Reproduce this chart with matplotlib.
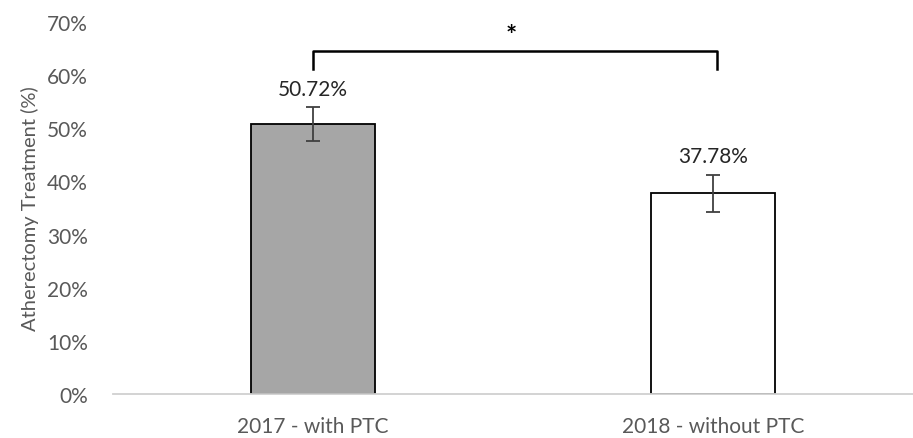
import matplotlib
matplotlib.use("Agg")
import matplotlib.pyplot as plt
from matplotlib.ticker import FuncFormatter

categories = ["2017 - with PTC", "2018 - without PTC"]
values = [50.72, 37.78]
errors = [3.2, 3.5]
bar_colors = ["#A6A6A6", "#FFFFFF"]
value_labels = ["50.72%", "37.78%"]
y_ticks = [0, 10, 20, 30, 40, 50, 60, 70]

plt.rcParams["font.family"] = ["Lato", "DejaVu Sans"]

fig = plt.figure(figsize=(9.13, 4.39), dpi=100)
ax = fig.add_axes([113 / 913, 44 / 439, 1 - 113 / 913, (395 - 23) / 439])

x = list(range(len(categories)))
ax.bar(x, values, width=0.31, color=bar_colors, edgecolor="black", linewidth=1.3, zorder=2)
ax.errorbar(x, values, yerr=errors, fmt="none", ecolor="#404040", elinewidth=1.3,
            capsize=5, capthick=1.3, zorder=3)

for xi, v, e, lab in zip(x, values, errors, value_labels):
    ax.annotate(lab, (xi, v + e), xytext=(0, 6), textcoords="offset points",
                ha="center", va="bottom", fontsize=15, color="#262626")

# significance bracket
y_br, y_drop = 64.6, 61.2
ax.plot([0, 0, 1.01, 1.01], [y_drop, y_br, y_br, y_drop], color="black", lw=1.8,
        solid_joinstyle="round", zorder=3)
ax.text(0.495, 67.6, "*", ha="center", va="center", fontsize=19, color="black", fontweight="bold")

ax.set_xlim(-0.5, 1.5)
ax.set_ylim(0, 70)
ax.set_yticks(y_ticks)
ax.yaxis.set_major_formatter(FuncFormatter(lambda v, p: f"{v:.0f}%"))
ax.set_xticks(x)
ax.set_xticklabels(categories)
ax.tick_params(axis="both", length=0, labelsize=15, labelcolor="#595959")
ax.tick_params(axis="y", pad=18)
ax.tick_params(axis="x", pad=16)
ax.set_ylabel("Atherectomy Treatment (%)", fontsize=14.5, color="#595959", labelpad=6)

for s in ["top", "right", "left"]:
    ax.spines[s].set_visible(False)
ax.spines["bottom"].set_color("#D0D0D0")
ax.spines["bottom"].set_linewidth(1.3)

fig.savefig("out.png", dpi=100)
